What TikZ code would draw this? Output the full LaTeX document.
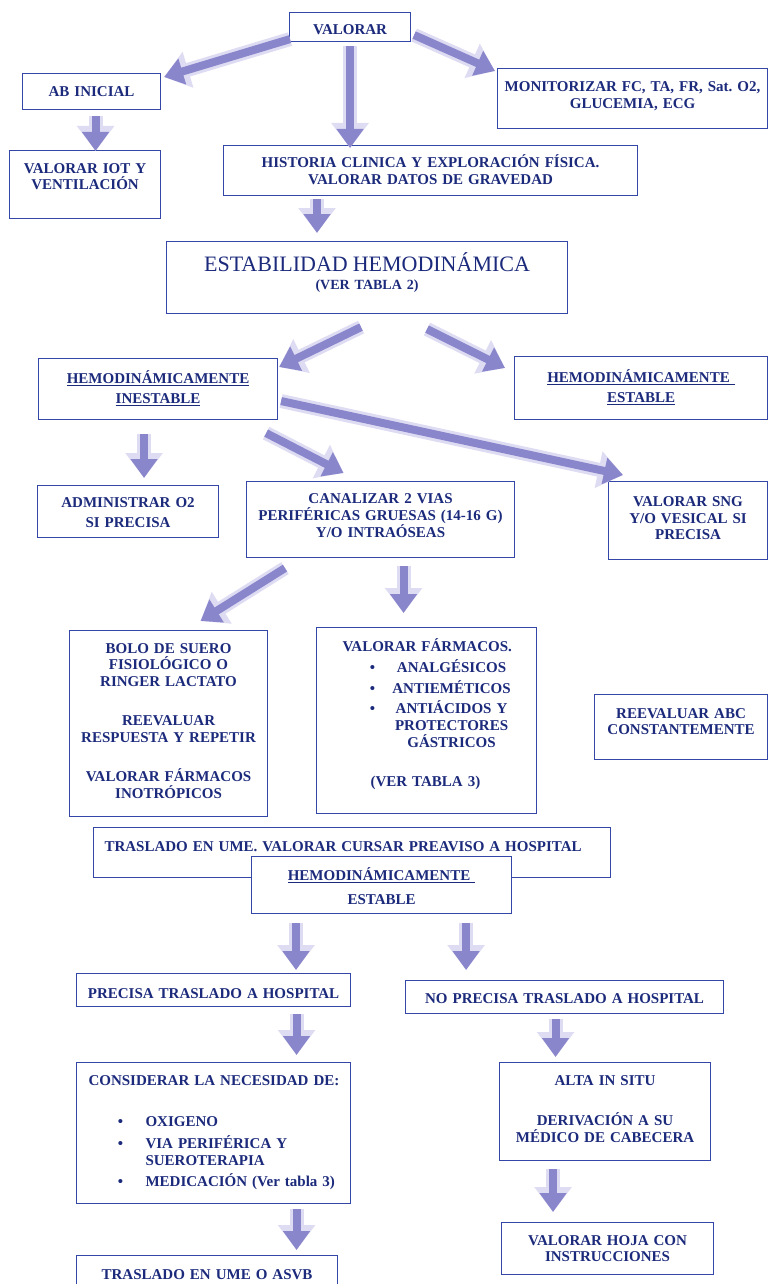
\documentclass[tikz,border=0pt]{standalone}
\usepackage{fontspec}
\setmainfont{Liberation Serif}
\usetikzlibrary{arrows.meta,calc}
\frenchspacing

\definecolor{navy}{HTML}{1C2A7C}
\definecolor{boxblue}{HTML}{3447A6}
\definecolor{arrowbody}{HTML}{8A86CC}
\definecolor{arrowpale}{HTML}{DEDCF3}

\begin{document}
\begin{tikzpicture}[x=1pt, y=-1pt,
  box/.style={draw=boxblue, line width=1.1pt, fill=white, anchor=north west, inner sep=0pt,
    align=center, text=navy, font=\fontsize{15}{17}\selectfont\bfseries},
  fatarrow/.style={draw=arrowbody, line width=8pt, -{Triangle[length=19pt,width=26pt]},
    preaction={draw=arrowpale, line width=14pt, -{Triangle[length=25pt,width=36pt]}}}
]
\useasboundingbox (0,0) rectangle (768,1284);

% top row
\node[box, text width=121pt, text height=22pt, text depth=7pt] (valorar) at (289,12) {VALORAR};
\node[box, text width=138pt, text height=23pt, text depth=13pt] (abini) at (22,73) {AB INICIAL};
\node[box, text width=151pt, text height=23pt, text depth=45pt] (iot) at (9,150) {VALORAR IOT Y\\[-1pt]VENTILACIÓN};
\node[box, text width=270pt, text height=23pt, text depth=37pt] (monit) at (497,68) {MONITORIZAR FC, TA, FR, Sat. O2,\\GLUCEMIA, ECG};
\node[box, text width=414pt, text height=22pt, text depth=28pt] (hist) at (223,145) {HISTORIA CLINICA Y EXPLORACIÓN FÍSICA.\\VALORAR DATOS DE GRAVEDAD};
\node[box, text width=401pt, text height=30pt, text depth=42pt] (estab) at (166,241)
  {{\fontsize{22}{22}\selectfont\mdseries ESTABILIDAD HEMODINÁMICA}\\[1pt]{\fontsize{14}{15}\selectfont (VER TABLA 2)}};

% inestable / estable
\node[box, text width=239pt, text height=25pt, text depth=36pt] (inest) at (38,358) {\underline{HEMODINÁMICAMENTE}\\[3pt]\underline{INESTABLE}};
\node[box, text width=253pt, text height=26pt, text depth=37pt] (estR) at (514,356) {\underline{HEMODINÁMICAMENTE\ }\\[3pt]\underline{ESTABLE}};

\node[box, text width=181pt, text height=22pt, text depth=30pt] (admin) at (37,485) {ADMINISTRAR O2\\[3pt]SI PRECISA};
\node[box, text width=268pt, text height=22pt, text depth=54pt] (canal) at (246,481) {CANALIZAR 2 VIAS\\PERIFÉRICAS GRUESAS (14-16 G)\\Y/O INTRAÓSEAS};
\node[box, text width=159pt, text height=25pt, text depth=53pt] (sng) at (608,481) {VALORAR SNG\\Y/O VESICAL SI\\[-1pt]PRECISA};

\node[box, text width=198pt, text height=23pt, text depth=163pt] (bolo) at (69,630)
  {BOLO DE SUERO\\[-1pt]FISIOLÓGICO O\\RINGER LACTATO\\[22pt]REEVALUAR\\RESPUESTA Y REPETIR\\[22pt]VALORAR FÁRMACOS\\INOTRÓPICOS};
\node[box, align=left, text width=220pt, text height=24pt, text depth=162pt] (farm) at (316,627)
  {\hspace*{26pt}VALORAR FÁRMACOS.\\[4pt]
   \hspace*{52pt}\makebox[8pt]{\textbullet}\hspace*{4pt}\makebox[142pt]{ANALGÉSICOS}\\[4pt]
   \hspace*{52pt}\makebox[8pt]{\textbullet}\hspace*{4pt}\makebox[142pt]{ANTIEMÉTICOS}\\[3pt]
   \hspace*{52pt}\makebox[8pt]{\textbullet}\hspace*{4pt}\makebox[142pt]{ANTIÁCIDOS Y}\\
   \hspace*{64pt}\makebox[142pt]{PROTECTORES}\\
   \hspace*{64pt}\makebox[142pt]{GÁSTRICOS}\\[22pt]
   \hspace*{54pt}(VER TABLA 3)};
\node[box, text width=173pt, text height=24pt, text depth=41pt] (reev) at (594,694) {REEVALUAR ABC\\[-1pt]CONSTANTEMENTE};

% traslado
\node[box, align=left, inner xsep=11pt, text width=495pt, text height=24pt, text depth=26pt] (trasl) at (93,827) {TRASLADO EN UME. VALORAR CURSAR PREAVISO A HOSPITAL};
\node[box, text width=260pt, text height=24pt, text depth=33pt] (estL) at (251,856) {\underline{HEMODINÁMICAMENTE\ }\\[7pt]ESTABLE};

\node[box, text width=274pt, text height=25pt, text depth=8pt] (prec) at (76,973) {PRECISA TRASLADO A HOSPITAL};
\node[box, text width=318pt, text height=23pt, text depth=10pt] (noprec) at (405,980) {NO PRECISA TRASLADO A HOSPITAL};
\node[box, align=left, text width=274pt, text height=23pt, text depth=118pt] (consid) at (76,1062)
  {\hspace*{12pt}CONSIDERAR LA NECESIDAD DE:\\[24pt]
   \hspace*{40pt}\makebox[8pt]{\textbullet}\hspace*{21pt}OXIGENO\\[5pt]
   \hspace*{40pt}\makebox[8pt]{\textbullet}\hspace*{21pt}VIA PERIFÉRICA Y\\
   \hspace*{69pt}SUEROTERAPIA\\[4pt]
   \hspace*{40pt}\makebox[8pt]{\textbullet}\hspace*{21pt}MEDICACIÓN (Ver tabla 3)};
\node[box, text width=211pt, text height=23pt, text depth=75pt] (alta) at (499,1062) {ALTA IN SITU\\[23pt]DERIVACIÓN A SU\\MÉDICO DE CABECERA};
\node[box, text width=212pt, text height=23pt, text depth=29pt] (hoja) at (501,1222) {VALORAR HOJA CON\\[-1pt]INSTRUCCIONES};
\node[box, text width=261pt, text height=24pt, text depth=40pt] (asvb) at (76,1255) {TRASLADO EN UME O ASVB};

% arrows
\draw[fatarrow] ($(valorar.south west)+(1,-3)$) -- ($(abini.north east)+(3,4)$);
\draw[fatarrow] ($(valorar.south)+(0,4)$) -- ($(valorar.south |- hist.north)+(0,3)$);
\draw[fatarrow] ($(valorar.east)+(3,8)$) -- ($(monit.north west)+(-2,3)$);
\draw[fatarrow] ($(abini.south)+(4,6)$) -- ($(abini.south |- iot.north)+(4,1)$);
\draw[fatarrow] ($(hist.south west)+(94,3)$) -- ($(hist.south west |- estab.north)+(94,-8)$);
\draw[fatarrow] ($(estab.south)+(-6,13)$) -- ($(inest.north east)+(1,9)$);
\draw[fatarrow] ($(estab.south)+(60,15)$) -- ($(estR.north west)+(-9,12)$);
\draw[fatarrow] ($(inest.south)+(-14,14)$) -- ($(inest.south |- admin.north)+(-14,-7)$);
\draw[fatarrow] ($(inest.south east)+(-12,13)$) -- ($(canal.north)+(-37,-8)$);
\draw[fatarrow] ($(inest.east)+(3,12)$) -- ($(sng.north west)+(15,-6)$);
\draw[fatarrow] ($(canal.south west)+(39,10)$) -- ($(bolo.north)+(32,-9)$);
\draw[fatarrow] ($(canal.south)+(23,8)$) -- ($(canal.south |- farm.north)+(23,-14)$);
\draw[fatarrow] ($(estL.south west)+(45,9)$) -- ($(estL.south west |- prec.north)+(45,-3)$);
\draw[fatarrow] ($(estL.south east)+(-46,9)$) -- ($(estL.south east |- noprec.north)+(-46,-10)$);
\draw[fatarrow] ($(prec.south)+(83,7)$) -- ($(prec.south |- consid.north)+(83,-7)$);
\draw[fatarrow] ($(noprec.south)+(-9,5)$) -- ($(noprec.south |- alta.north)+(-9,-5)$);
\draw[fatarrow] ($(consid.south)+(83,5)$) -- ($(consid.south |- asvb.north)+(83,-5)$);
\draw[fatarrow] ($(alta.south)+(-52,8)$) -- ($(alta.south |- hoja.north)+(-52,-10)$);

\end{tikzpicture}
\end{document}
